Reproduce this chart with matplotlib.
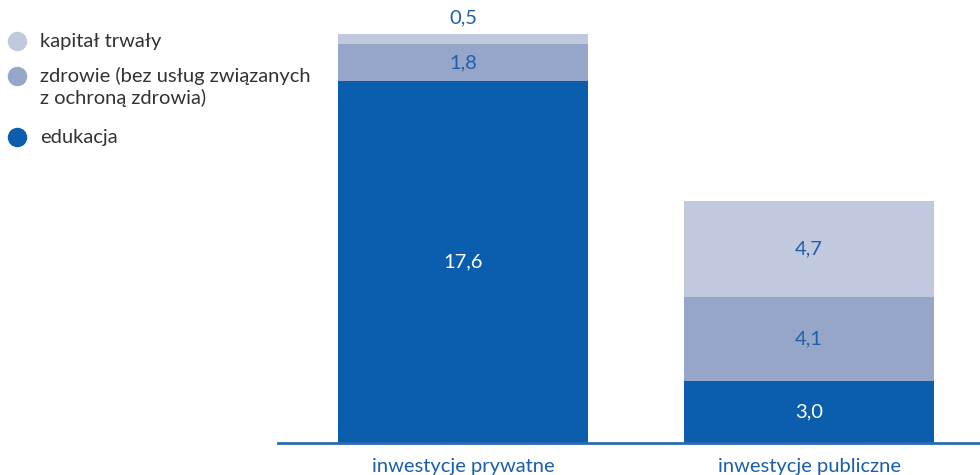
import numpy as np
import matplotlib
matplotlib.use("Agg")
import matplotlib.pyplot as plt

plt.rcParams['font.family'] = ['Lato', 'DejaVu Sans']

categories = ["inwestycje prywatne", "inwestycje publiczne"]
series_names = ["edukacja", "zdrowie (bez usług związanych\nz ochroną zdrowia)", "kapitał trwały"]
edukacja = [17.6, 3.0]
zdrowie = [1.8, 4.1]
kapital = [0.5, 4.7]

colors = ["#0b5ead", "#96a6c8", "#c1c9de"]
label_colors = ["white", "#1f5fae", "#1f5fae"]
blue = "#1a5fa8"
fs = 14.5

W, H = 980, 475
fig = plt.figure(figsize=(W / 100, H / 100), dpi=100)
ax = fig.add_axes([278 / W, 32 / H, 702 / W, 443 / H])

x = np.arange(len(categories))
bar_w = 250 / 346
bottom = np.zeros(len(categories))
for vals, col, lc in zip([edukacja, zdrowie, kapital], colors, label_colors):
    vals = np.array(vals)
    ax.bar(x, vals, bar_w, bottom=bottom, color=col, linewidth=0)
    for xi, b, v in zip(x, bottom, vals):
        txt = f"{v:.1f}".replace(".", ",")
        if v < 1:
            # too thin, put above the bar
            ax.text(xi, b + v + 0.78, txt, ha="center", va="center",
                    color="#1f5fae", fontsize=fs)
        else:
            ax.text(xi, b + v / 2, txt, ha="center", va="center",
                    color=lc, fontsize=fs)
    bottom = bottom + vals

ax.set_xlim(-185 / 346, -185 / 346 + 702 / 346)
ax.set_ylim(0, 443 / 20.55)
for s in ["top", "right", "left"]:
    ax.spines[s].set_visible(False)
ax.spines["bottom"].set_color("#2a6bb0")
ax.spines["bottom"].set_linewidth(2)
ax.set_yticks([])
ax.set_xticks(x)
ax.set_xticklabels(categories, color=blue, fontsize=fs)
ax.tick_params(axis="x", length=0, pad=11)

# legend drawn by hand
leg_items = [(series_names[2], colors[2], 41), (series_names[1], colors[1], 76),
             (series_names[0], colors[0], 137)]
for name, col, yy in leg_items:
    fig.lines.append(plt.Line2D([17 / W], [1 - yy / H], marker="o", markersize=13,
                                color=col, transform=fig.transFigure, linestyle=""))
    for i, line in enumerate(name.split("\n")):
        fig.text(40 / W, 1 - (yy + 22 * i) / H, line, ha="left", va="center",
                 fontsize=fs, color="#333333")

fig.savefig("out.png", dpi=100)
